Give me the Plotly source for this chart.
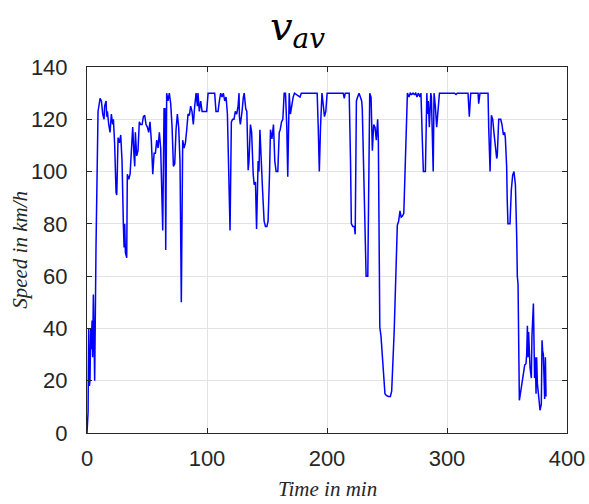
import plotly.graph_objects as go

# Time in minutes
time_min = [0, 0.9, 1.4, 2.0, 2.5, 3.1, 3.6, 4.2, 4.7, 5.3, 5.9, 6.4, 7.5, 9.2, 10.9, 12.0, 13.1, 14.2, 14.7, 15.9,
            16.4, 17.0, 18.1, 19.2, 20.3, 21.4, 22.0, 23.0, 24.2, 24.8, 25.9, 27.0, 28.1, 29.2, 30.3, 30.9, 31.4, 32.0, 33.1, 33.6,
            34.8, 35.9, 37.0, 38.1, 39.2, 39.8, 40.3, 41.4, 42.5, 43.6, 44.7, 45.9, 47.0, 48.1, 49.2, 50.3, 51.4, 52.5, 53.6, 54.8,
            55.9, 57.0, 58.1, 59.2, 60.3, 61.4, 62.5, 63.1, 64.2, 65.0, 65.6, 66.4, 67.5, 68.6, 69.75, 70.9, 72.0, 73.1, 74.2, 75.3,
            76.4, 77.5, 78.6, 79.75, 80.9, 82.0, 83.1, 84.2, 85.3, 86.4, 87.5, 88.6, 89.75, 90.9, 92.0, 92.5, 93.6, 94.75, 95.9, 97.0,
            98.1, 99.75, 100.9, 106.4, 107.5, 109.2, 110.3, 111.4, 112.5, 113.6, 114.75, 115.9, 117.0, 118.1, 119.2, 120.3, 121.4, 122.5, 123.6, 124.75,
            125.9, 126.7, 127.0, 127.8, 128.1, 129.2, 130.3, 131.0, 132.3, 133.2, 134.3, 135.0, 136.2, 137.2, 138.5, 139.3, 140.4, 141.3, 142.6, 143.3,
            144.1, 145.4, 146.4, 147.6, 148.7, 149.9, 150.9, 152.1, 152.9, 154.1, 155.4, 156.5, 157.6, 159.0, 160.2, 161.0, 162.1, 163.2, 164.3, 165.4,
            166.5, 167.3, 168.5, 169.5, 170.6, 171.8, 172.9, 177.5, 178.6, 191.8, 192.7, 193.6, 194.6, 195.8, 197.0, 197.9, 199.0, 200.1, 213.5, 214.4,
            215.2, 218.5, 219.6, 220.3, 221.5, 222.8, 223.5, 224.5, 225.5, 226.7, 227.8, 228.9, 229.4, 230.6, 231.7, 232.6, 234.0, 235.0, 235.6, 236.7,
            237.8, 238.9, 240.0, 241.1, 242.2, 242.8, 244.0, 245.0, 246.6, 248.3, 249.4, 251.1, 252.8, 253.9, 256.0, 257.5, 258.6, 259.7, 260.8, 261.8,
            262.9, 264.0, 265.0, 266.1, 267.0, 268.3, 269.4, 270.6, 271.7, 272.8, 273.9, 275.0, 276.1, 277.5, 278.3, 279.5, 280.3, 282.0, 282.5, 283.2,
            283.8, 284.4, 285.3, 286.5, 287.0, 287.8, 288.5, 289.2, 290.3, 291.4, 292.5, 293.7, 306.4, 307.5, 308.5, 317.5, 318.6, 319.75, 325.9, 326.4,
            327.5, 334.2, 334.75, 335.3, 335.9, 337.0, 338.1, 339.2, 340.3, 341.4, 341.9, 342.5, 343.1, 344.75, 345.8, 347.0, 348.0, 348.6, 349.7, 350.2,
            350.8, 352.5, 353.6, 354.7, 355.8, 357.0, 357.5, 358.1, 358.6, 359.2, 360.3, 361.4, 363.0, 364.75, 365.8, 366.4, 367.0, 367.5, 368.0, 369.2,
            370.3, 370.8, 372.0, 372.5, 373.0, 373.6, 374.2, 374.7, 375.3, 376.4, 377.5, 378.6, 379.2, 379.7, 380.3, 380.8, 381.4, 382.0, 382.5]

# Average speed in km/h
speed_kmh = [0, 8, 40, 18, 20, 40, 32, 43, 29, 53, 40, 20, 71, 123, 128, 127, 122, 120, 125, 127,
             121, 123, 118, 115, 122, 118, 120, 111, 92, 91, 113, 111, 114, 104, 80, 71, 80, 69, 67, 99,
             97, 99, 108, 117, 106, 102, 115, 106, 108, 119, 118, 118, 121, 121.5, 118, 117, 115, 119, 112, 99,
             107, 107, 112, 109, 115, 109, 89, 77.5, 124, 124, 70, 130, 127, 130, 126, 117, 102, 103, 116, 122,
             117, 104, 50, 112, 109, 111, 116, 122, 121.5, 125, 123, 118, 125, 130, 125, 130, 123, 127, 123, 123,
             123, 123, 130, 130, 123, 123, 127, 130, 128.5, 130, 127, 128.5, 122, 104, 77.5, 119, 120, 120, 123, 122,
             125, 130, 121, 118, 119, 123, 128.5, 130, 124, 123, 100.5, 104, 118, 115, 99, 95, 96, 78, 104, 100,
             116, 98, 92, 81, 79, 79, 81, 99, 116, 112.5, 118, 104, 100, 100, 115, 116, 119, 120, 130, 130,
             117, 98, 130, 122, 126, 128.5, 130, 128.5, 130, 130, 117, 100, 117, 130, 125, 121, 123, 130, 130, 128,
             130, 130, 104, 80, 79, 79, 76, 127, 128.5, 130, 128.5, 127, 124, 98, 72, 60, 60, 109, 130, 128.5,
             108, 118, 117, 112, 120, 112, 40.5, 37, 28, 15, 14.4, 14, 14, 16, 39, 63, 79.5, 81, 85, 82.6,
             83, 84, 98, 117, 130, 128.5, 130, 129.5, 130, 129.5, 130, 128.5, 130, 128.5, 130, 111, 100, 100, 126, 130,
             122, 127, 117, 130, 128.5, 110, 100, 130, 125, 117, 123, 130, 130, 129.5, 130, 130, 121, 130, 130, 126,
             130, 130, 117, 100.5, 100, 121.5, 120, 114.5, 109, 105, 106, 118, 120, 120, 118, 114, 115, 113, 102, 89,
             80, 80, 93, 98.5, 100, 95, 89, 75, 60, 57, 12.5, 16, 21, 26, 26.5, 30, 41, 29, 38.6, 25,
             21, 37, 49.5, 31.5, 21, 29, 15, 29, 19, 14, 8.7, 11, 35.5, 31.5, 30, 20, 13, 29, 14]

x_ticks = [0, 100, 200, 300, 400]
y_ticks = [0, 20, 40, 60, 80, 100, 120, 140]

AXIS_COLOR = "#262626"
GRID_COLOR = "#e3e3e3"
TICK_FONT = dict(family="Liberation Sans, Arial, sans-serif", size=22, color=AXIS_COLOR)
LABEL_FONT = dict(family="Liberation Serif, Times New Roman, serif", size=21, color=AXIS_COLOR)

fig = go.Figure()
fig.add_trace(go.Scatter(x=time_min, y=speed_kmh, mode="lines",
                         line=dict(color="#0000ff", width=1.5), showlegend=False))

axis_common = dict(showline=True, linecolor=AXIS_COLOR, linewidth=1, mirror="ticks",
                   ticks="inside", ticklen=5, tickcolor=AXIS_COLOR, tickwidth=1,
                   showgrid=True, gridcolor=GRID_COLOR, gridwidth=1, zeroline=False,
                   tickfont=TICK_FONT)

fig.update_xaxes(range=[0, 400], tickvals=x_ticks, ticktext=[str(v) for v in x_ticks],
                 ticklabelstandoff=6, **axis_common)
fig.update_yaxes(range=[0, 140], tickvals=y_ticks, ticktext=[str(v) for v in y_ticks],
                 ticklabelstandoff=14, **axis_common)

fig.add_annotation(text="<i>Time in min</i>", xref="paper", yref="paper", x=0.5, y=-0.152,
                   xanchor="center", yanchor="middle", showarrow=False, font=LABEL_FONT)
fig.add_annotation(text="<i>Speed in km/h</i>", xref="paper", yref="paper", x=-0.14, y=0.5,
                   xanchor="center", yanchor="middle", textangle=-90, showarrow=False, font=LABEL_FONT)
fig.add_annotation(text="<i>v</i><sub><i>av</i></sub>", xref="paper", yref="paper",
                   x=(297 - 87) / 480, y=1 + (67 - 29) / 366, xanchor="center", yanchor="middle",
                   showarrow=False, font=dict(family="DejaVu Serif, serif", size=40, color="#000000"))

fig.update_layout(width=589, height=504, margin=dict(l=87, r=22, t=67, b=71, autoexpand=False),
                  paper_bgcolor="white", plot_bgcolor="white")

fig.write_html("out.html")
